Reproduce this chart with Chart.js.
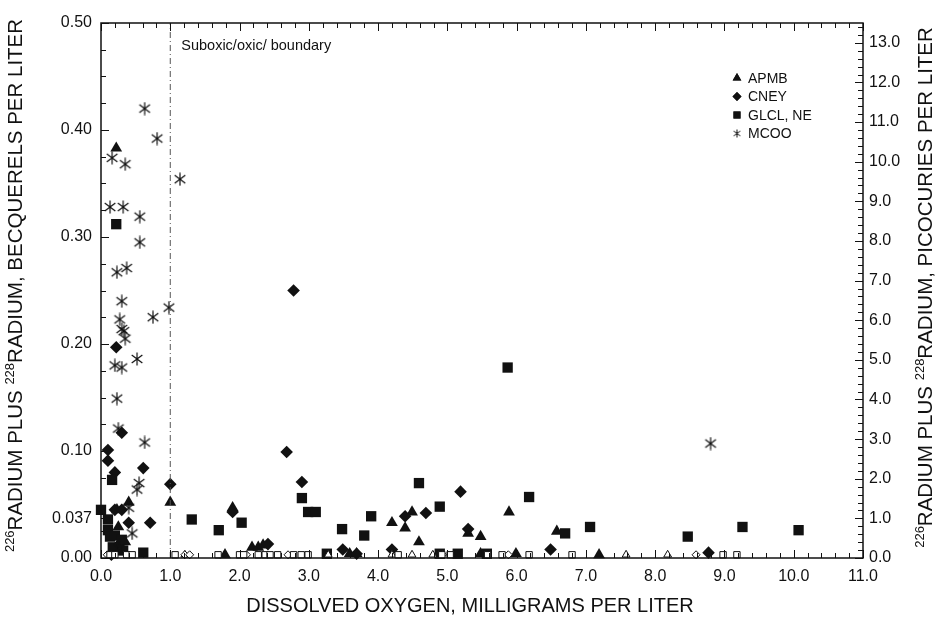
<!DOCTYPE html>
<html>
<head>
<meta charset="utf-8">
<script src="https://cdn.jsdelivr.net/npm/chart.js@4.4.0/dist/chart.umd.min.js"></script>
<style>
  html, body { margin: 0; padding: 0; background: #fff; }
  #wrap { width: 939px; height: 621px; }
</style>
</head>
<body>
<div id="wrap"><canvas id="chart"></canvas></div>
<script>
// dissolved oxygen (mg/L), radium-226 + radium-228 (Bq/L)
const apmbPoints = [
  [0.22, 0.383], [1.00, 0.052], [0.40, 0.052], [0.23, 0.045], [0.25, 0.029], [0.35, 0.015],
  [1.79, 0.003], [1.90, 0.047], [2.18, 0.010], [2.27, 0.010], [2.34, 0.012],
  [3.59, 0.004], [3.69, 0.004], [4.20, 0.033], [4.39, 0.028], [4.49, 0.043], [4.59, 0.015],
  [5.30, 0.023], [5.48, 0.020], [5.48, 0.004], [5.89, 0.043], [5.99, 0.004], [6.58, 0.025], [7.19, 0.003]
];
const cneyPoints = [
  [0.10, 0.101], [0.10, 0.091], [0.20, 0.080], [0.61, 0.084], [1.00, 0.069], [0.20, 0.045],
  [0.30, 0.045], [0.40, 0.033], [0.71, 0.033], [0.25, 0.012], [0.30, 0.117], [0.22, 0.197], [0.15, 0.003],
  [1.90, 0.043], [2.41, 0.013], [2.68, 0.099], [2.78, 0.250], [2.90, 0.071], [3.49, 0.008], [3.69, 0.004],
  [4.20, 0.008], [4.39, 0.039], [4.69, 0.042], [5.19, 0.062], [5.30, 0.027], [6.49, 0.008], [8.77, 0.005]
];
const glclPoints = [
  [0.00, 0.045], [0.16, 0.073], [0.22, 0.312], [0.10, 0.036], [0.10, 0.026], [0.13, 0.020], [0.20, 0.021],
  [0.30, 0.017], [0.17, 0.010], [0.32, 0.007], [0.61, 0.005], [1.31, 0.036], [1.70, 0.026], [2.03, 0.033],
  [2.90, 0.056], [2.99, 0.043], [3.10, 0.043], [3.26, 0.004], [3.48, 0.027], [3.80, 0.021], [3.90, 0.039],
  [4.59, 0.070], [4.89, 0.048], [4.89, 0.004], [5.15, 0.004], [5.57, 0.004], [5.87, 0.178], [6.18, 0.057],
  [6.70, 0.023], [7.06, 0.029], [8.47, 0.020], [9.26, 0.029], [10.07, 0.026]
];
const mcooPoints = [
  [0.63, 0.420], [0.81, 0.392], [0.16, 0.374], [0.35, 0.368], [1.14, 0.354], [0.13, 0.328], [0.32, 0.328],
  [0.56, 0.319], [0.56, 0.295], [0.23, 0.267], [0.37, 0.271], [0.30, 0.240], [0.98, 0.234], [0.75, 0.225],
  [0.27, 0.223], [0.30, 0.214], [0.33, 0.212], [0.35, 0.205], [0.52, 0.186], [0.20, 0.180], [0.30, 0.178],
  [0.23, 0.149], [0.25, 0.121], [0.63, 0.108], [0.55, 0.070], [0.52, 0.064], [0.40, 0.047], [0.45, 0.023],
  [0.27, 0.009], [8.80, 0.107]
];
// below reporting level, plotted on the axis as open symbols
const ndLevel = 0.003;
const glclNondetect = [0.13, 0.20, 0.37, 0.45, 1.07, 1.69, 2.00, 2.06, 2.27, 2.37, 2.44, 2.55, 2.78, 2.89, 2.99,
  4.29, 4.92, 5.04, 5.58, 5.79, 6.18, 6.80, 8.98, 9.18];
const cneyNondetect = [0.09, 1.21, 1.28, 2.10, 2.70, 4.93, 5.88, 8.59];
const apmbNondetect = [1.21, 3.28, 4.20, 4.49, 4.79, 7.58, 8.18];

const boundaryOxygen = 1.0;
const xTicks = [0, 1, 2, 3, 4, 5, 6, 7, 8, 9, 10, 11];
const yTicks = [0, 0.037, 0.1, 0.2, 0.3, 0.4, 0.5];
const pciTicks = [0, 1, 2, 3, 4, 5, 6, 7, 8, 9, 10, 11, 12, 13];
const PCI_PER_BQ = 27;

const INK = '#111';
const FONT = '"Liberation Sans", Arial, sans-serif';

function asterisk(size, lw) {
  const c = document.createElement('canvas');
  c.width = size; c.height = size;
  const g = c.getContext('2d');
  const m = size / 2, r = size / 2 - 0.5;
  g.strokeStyle = INK; g.lineWidth = lw;
  g.beginPath();
  g.moveTo(m, m - r); g.lineTo(m, m + r);
  const d = r * 0.82;
  g.moveTo(m - d, m - d * 0.75); g.lineTo(m + d, m + d * 0.75);
  g.moveTo(m - d, m + d * 0.75); g.lineTo(m + d, m - d * 0.75);
  g.stroke();
  return c;
}
const starBig = asterisk(14, 1.2);
const starSmall = asterisk(9, 1);

const pts = arr => arr.map(p => ({ x: p[0], y: p[1] }));
const nd = arr => arr.map(v => ({ x: v, y: ndLevel }));

const datasets = [
  { label: 'boundary', type: 'line', data: [{ x: boundaryOxygen, y: 0 }, { x: boundaryOxygen, y: 0.5 }],
    borderColor: '#555', borderWidth: 1, borderDash: [6, 3, 1, 3], pointRadius: 0 },
  { label: 'glclNd', data: nd(glclNondetect), pointStyle: 'rect', pointRadius: 4.5,
    backgroundColor: '#fff', borderColor: INK, borderWidth: 1 },
  { label: 'cneyNd', data: nd(cneyNondetect), pointStyle: 'rectRot', pointRadius: 4,
    backgroundColor: '#fff', borderColor: INK, borderWidth: 1 },
  { label: 'apmbNd', data: nd(apmbNondetect), pointStyle: 'triangle', pointRadius: 4.5,
    backgroundColor: '#fff', borderColor: INK, borderWidth: 1 },
  { label: 'MCOO', data: pts(mcooPoints), pointStyle: starBig, legendStyle: starSmall },
  { label: 'GLCL, NE', data: pts(glclPoints), pointStyle: 'rect', pointRadius: 7.3,
    backgroundColor: INK, borderColor: INK, borderWidth: 0, legendRadius: 5 },
  { label: 'CNEY', data: pts(cneyPoints), pointStyle: 'rectRot', pointRadius: 6.3,
    backgroundColor: INK, borderColor: INK, borderWidth: 0, legendRadius: 4.5 },
  { label: 'APMB', data: pts(apmbPoints), pointStyle: 'triangle', pointRadius: 6.8,
    backgroundColor: INK, borderColor: INK, borderWidth: 0, legendRadius: 5 }
];
const legendOrder = ['APMB', 'CNEY', 'GLCL, NE', 'MCOO'];

function drawSuperTitle(ctx, parts, size) {
  // parts: [text, isSuperscript]
  const sup = Math.round(size * 0.62);
  let total = 0;
  parts.forEach(([t, s]) => {
    ctx.font = (s ? sup : size) + 'px ' + FONT;
    total += ctx.measureText(t).width;
  });
  let x = -total / 2;
  parts.forEach(([t, s]) => {
    ctx.font = (s ? sup : size) + 'px ' + FONT;
    ctx.fillText(t, x, s ? -size * 0.38 : 0);
    x += ctx.measureText(t).width;
  });
}

const decorations = {
  id: 'decorations',
  afterDraw(chart) {
    const { ctx, chartArea: a, scales: { x, y, y2 } } = chart;
    ctx.save();
    ctx.strokeStyle = INK;
    ctx.lineWidth = 1.5;
    ctx.strokeRect(a.left, a.top, a.right - a.left, a.bottom - a.top);

    ctx.lineWidth = 1;
    ctx.beginPath();
    for (let i = 0; i <= 55; i++) {
      const px = Math.round(x.getPixelForValue(i * 0.2)) + 0.5;
      const len = i % 5 === 0 ? 8 : 5;
      ctx.moveTo(px, a.bottom); ctx.lineTo(px, a.bottom - len);
      ctx.moveTo(px, a.top); ctx.lineTo(px, a.top + len);
    }
    for (let i = 0; i <= 20; i++) {
      const py = Math.round(y.getPixelForValue(i * 0.025)) + 0.5;
      const len = i % 4 === 0 ? 8 : 5;
      ctx.moveTo(a.left, py); ctx.lineTo(a.left + len, py);
    }
    const p037 = Math.round(y.getPixelForValue(0.037)) + 0.5;
    ctx.moveTo(a.left, p037); ctx.lineTo(a.left + 8, p037);
    for (let i = 0; i <= 67; i++) {
      const py = Math.round(y2.getPixelForValue(i * 0.2)) + 0.5;
      const len = i % 5 === 0 ? 8 : 5;
      ctx.moveTo(a.right, py); ctx.lineTo(a.right - len, py);
    }
    ctx.stroke();

    ctx.fillStyle = INK;
    ctx.textBaseline = 'alphabetic';
    ctx.textAlign = 'left';
    ctx.font = '14.5px ' + FONT;
    ctx.fillText('Suboxic/oxic/ boundary', x.getPixelForValue(boundaryOxygen) + 11, 50);

    // legend
    ctx.font = '14px ' + FONT;
    ctx.textBaseline = 'middle';
    legendOrder.forEach((name, i) => {
      const ds = chart.data.datasets.find(d => d.label === name);
      const cy = 78 + i * 18.5, cx = 737;
      if (ds.legendStyle) {
        ctx.drawImage(ds.legendStyle, cx - 4.5, cy - 4.5);
      } else {
        ctx.fillStyle = INK;
        Chart.helpers.drawPoint(ctx, { pointStyle: ds.pointStyle, radius: ds.legendRadius, borderWidth: 0 }, cx, cy);
        ctx.fill();
      }
      ctx.fillStyle = INK;
      ctx.fillText(name, 748, cy + 1);
    });

    // axis titles
    ctx.textBaseline = 'alphabetic';
    ctx.fillStyle = INK;
    ctx.font = '20px ' + FONT;
    ctx.textAlign = 'center';
    ctx.fillText('DISSOLVED OXYGEN, MILLIGRAMS PER LITER', (a.left + a.right) / 2 - 12, 612);
    ctx.textAlign = 'left';

    ctx.save();
    ctx.translate(22, (a.top + a.bottom) / 2 - 5);
    ctx.rotate(-Math.PI / 2);
    drawSuperTitle(ctx, [['226', true], ['RADIUM PLUS ', false], ['228', true], ['RADIUM, BECQUERELS PER LITER', false]], 20.5);
    ctx.restore();

    ctx.save();
    ctx.translate(932, (a.top + a.bottom) / 2 - 3);
    ctx.rotate(-Math.PI / 2);
    drawSuperTitle(ctx, [['226', true], ['RADIUM PLUS ', false], ['228', true], ['RADIUM, PICOCURIES PER LITER', false]], 20.5);
    ctx.restore();

    ctx.restore();
  }
};

const tickFont = { family: FONT, size: 16 };

new Chart(document.getElementById('chart'), {
  type: 'scatter',
  data: { datasets },
  options: {
    responsive: true,
    maintainAspectRatio: false,
    animation: false,
    clip: false,
    layout: { padding: { top: 23, left: 0, right: 0, bottom: 0 } },
    plugins: { legend: { display: false }, tooltip: { enabled: false } },
    scales: {
      x: {
        type: 'linear', min: 0, max: 11,
        grid: { display: false, drawTicks: false },
        border: { display: false },
        afterBuildTicks: s => { s.ticks = xTicks.map(v => ({ value: v })); },
        afterFit: s => { s.height = 63; },
        ticks: { font: tickFont, color: INK, padding: 9, maxRotation: 0, callback: v => v.toFixed(1) }
      },
      y: {
        type: 'linear', min: 0, max: 0.5, position: 'left',
        grid: { display: false, drawTicks: false },
        border: { display: false },
        afterBuildTicks: s => { s.ticks = yTicks.map(v => ({ value: v })); },
        afterFit: s => { s.width = 101; },
        ticks: { font: tickFont, color: INK, padding: 9, callback: v => v === 0.037 ? '0.037' : v.toFixed(2) }
      },
      y2: {
        type: 'linear', min: 0, max: 0.5 * PCI_PER_BQ, position: 'right',
        grid: { display: false, drawTicks: false },
        border: { display: false },
        afterBuildTicks: s => { s.ticks = pciTicks.map(v => ({ value: v })); },
        afterFit: s => { s.width = 76; },
        ticks: { font: tickFont, color: INK, padding: 6, callback: v => v.toFixed(1) }
      }
    }
  },
  plugins: [decorations]
});
</script>
</body>
</html>
